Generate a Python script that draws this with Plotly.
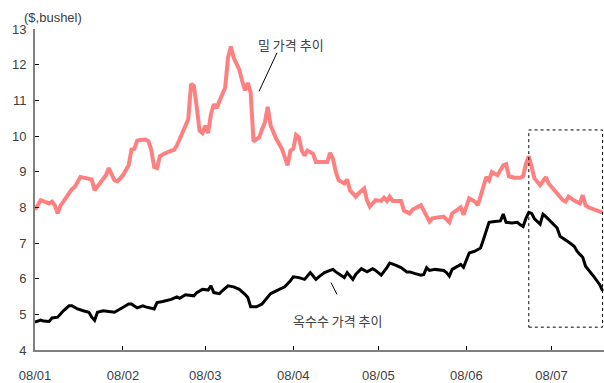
import plotly.graph_objects as go

# 2008 daily price samples, $ per bushel
wheat_dates = [
    "2008-01-01", "2008-01-03", "2008-01-06", "2008-01-07", "2008-01-08", "2008-01-09", "2008-01-10",
    "2008-01-12", "2008-01-14", "2008-01-15", "2008-01-17", "2008-01-19", "2008-01-21", "2008-01-22",
    "2008-01-24", "2008-01-26", "2008-01-27", "2008-01-29", "2008-01-30", "2008-02-01", "2008-02-03",
    "2008-02-04", "2008-02-05", "2008-02-06", "2008-02-07", "2008-02-09", "2008-02-10", "2008-02-11",
    "2008-02-12", "2008-02-13", "2008-02-14", "2008-02-15", "2008-02-18", "2008-02-19", "2008-02-20",
    "2008-02-22", "2008-02-24", "2008-02-25", "2008-02-26", "2008-02-27", "2008-02-28", "2008-02-29",
    "2008-03-01", "2008-03-02", "2008-03-03", "2008-03-04", "2008-03-05", "2008-03-06", "2008-03-08",
    "2008-03-09", "2008-03-10", "2008-03-11", "2008-03-13", "2008-03-14", "2008-03-15", "2008-03-16",
    "2008-03-17", "2008-03-18", "2008-03-20", "2008-03-21", "2008-03-22", "2008-03-23", "2008-03-24",
    "2008-03-26", "2008-03-28", "2008-03-29", "2008-03-30", "2008-03-31", "2008-04-01", "2008-04-02",
    "2008-04-03", "2008-04-04", "2008-04-05", "2008-04-06", "2008-04-08", "2008-04-09", "2008-04-12",
    "2008-04-13", "2008-04-14", "2008-04-15", "2008-04-16", "2008-04-17", "2008-04-19", "2008-04-20",
    "2008-04-21", "2008-04-23", "2008-04-24", "2008-04-26", "2008-04-27", "2008-04-28", "2008-04-30",
    "2008-05-02", "2008-05-03", "2008-05-04", "2008-05-05", "2008-05-06", "2008-05-09", "2008-05-10",
    "2008-05-12", "2008-05-13", "2008-05-16", "2008-05-17", "2008-05-19", "2008-05-20", "2008-05-24",
    "2008-05-26", "2008-05-27", "2008-05-29", "2008-05-30", "2008-05-31", "2008-06-01", "2008-06-02",
    "2008-06-04", "2008-06-05", "2008-06-06", "2008-06-07", "2008-06-08", "2008-06-09", "2008-06-10",
    "2008-06-11", "2008-06-12", "2008-06-14", "2008-06-15", "2008-06-16", "2008-06-18", "2008-06-20",
    "2008-06-21", "2008-06-22", "2008-06-23", "2008-06-24", "2008-06-25", "2008-06-27", "2008-06-29",
    "2008-06-30", "2008-07-02", "2008-07-03", "2008-07-05", "2008-07-06", "2008-07-07", "2008-07-09",
    "2008-07-11", "2008-07-12", "2008-07-13", "2008-07-14", "2008-07-16", "2008-07-17", "2008-07-19",
]
wheat_prices = [
    7.93, 8.20, 8.11, 8.16, 8.05, 7.83, 8.05,
    8.27, 8.51, 8.57, 8.85, 8.82, 8.78, 8.48,
    8.69, 8.90, 9.10, 8.76, 8.73, 8.90, 9.18,
    9.62, 9.64, 9.87, 9.89, 9.90, 9.85, 9.60,
    9.13, 9.10, 9.43, 9.48, 9.59, 9.61, 9.73,
    10.10, 10.47, 11.46, 11.40, 10.80, 10.15, 10.08,
    10.29, 10.08, 10.61, 10.89, 10.78, 10.98, 11.35,
    12.19, 12.51, 12.20, 11.86, 11.54, 11.28, 11.49,
    11.21, 9.85, 9.96, 10.19, 10.38, 10.82, 10.30,
    9.92, 9.64, 9.41, 9.18, 9.59, 9.64, 10.03,
    9.96, 9.59, 9.45, 9.59, 9.50, 9.27, 9.27,
    9.27, 9.53, 9.36, 8.99, 8.76, 8.67, 8.78,
    8.48, 8.30, 8.39, 8.53, 8.20, 8.02, 8.20,
    8.18, 8.27, 8.18, 8.30, 8.18, 8.18, 7.91,
    7.83, 7.93, 8.06, 7.91, 7.60, 7.69, 7.74,
    7.58, 7.83, 7.94, 8.00, 7.79, 8.02, 8.25,
    8.16, 8.06, 8.31, 8.62, 8.85, 8.76, 8.99,
    8.94, 8.90, 9.18, 9.21, 8.87, 8.83, 8.83,
    8.87, 9.22, 9.43, 9.13, 8.81, 8.62, 8.85,
    8.67, 8.48, 8.36, 8.20, 8.16, 8.30, 8.19,
    8.11, 8.34, 8.06, 8.00, 7.94, 7.91, 7.85,
]

corn_dates = [
    "2008-01-01", "2008-01-03", "2008-01-04", "2008-01-06", "2008-01-07", "2008-01-09", "2008-01-11",
    "2008-01-13", "2008-01-14", "2008-01-16", "2008-01-18", "2008-01-20", "2008-01-21", "2008-01-22",
    "2008-01-23", "2008-01-25", "2008-01-27", "2008-01-29", "2008-01-31", "2008-02-03", "2008-02-04",
    "2008-02-06", "2008-02-08", "2008-02-09", "2008-02-12", "2008-02-13", "2008-02-15", "2008-02-18",
    "2008-02-20", "2008-02-21", "2008-02-23", "2008-02-26", "2008-02-27", "2008-02-29", "2008-03-02",
    "2008-03-03", "2008-03-04", "2008-03-06", "2008-03-07", "2008-03-09", "2008-03-11", "2008-03-13",
    "2008-03-15", "2008-03-16", "2008-03-17", "2008-03-19", "2008-03-21", "2008-03-24", "2008-03-26",
    "2008-03-27", "2008-03-29", "2008-03-31", "2008-04-01", "2008-04-03", "2008-04-05", "2008-04-07",
    "2008-04-09", "2008-04-10", "2008-04-12", "2008-04-14", "2008-04-15", "2008-04-16", "2008-04-19",
    "2008-04-20", "2008-04-22", "2008-04-23", "2008-04-25", "2008-04-27", "2008-04-29", "2008-04-30",
    "2008-05-02", "2008-05-04", "2008-05-05", "2008-05-07", "2008-05-09", "2008-05-11", "2008-05-12",
    "2008-05-14", "2008-05-16", "2008-05-17", "2008-05-18", "2008-05-19", "2008-05-21", "2008-05-24",
    "2008-05-25", "2008-05-26", "2008-05-27", "2008-05-29", "2008-05-30", "2008-05-31", "2008-06-01",
    "2008-06-02", "2008-06-04", "2008-06-06", "2008-06-07", "2008-06-08", "2008-06-09", "2008-06-11",
    "2008-06-13", "2008-06-14", "2008-06-15", "2008-06-17", "2008-06-19", "2008-06-20", "2008-06-21",
    "2008-06-22", "2008-06-23", "2008-06-24", "2008-06-25", "2008-06-27", "2008-06-28", "2008-06-29",
    "2008-07-01", "2008-07-03", "2008-07-04", "2008-07-06", "2008-07-07", "2008-07-09", "2008-07-10",
    "2008-07-11", "2008-07-12", "2008-07-13", "2008-07-15", "2008-07-16", "2008-07-18", "2008-07-19",
]
corn_prices = [
    4.78, 4.84, 4.81, 4.80, 4.90, 4.92, 5.10,
    5.24, 5.24, 5.15, 5.10, 5.06, 4.92, 4.83,
    5.06, 5.10, 5.08, 5.06, 5.15, 5.29, 5.29,
    5.18, 5.24, 5.21, 5.15, 5.33, 5.36, 5.42,
    5.49, 5.45, 5.55, 5.52, 5.61, 5.70, 5.68,
    5.80, 5.61, 5.58, 5.66, 5.80, 5.77, 5.70,
    5.56, 5.47, 5.21, 5.21, 5.29, 5.58, 5.66,
    5.70, 5.77, 5.94, 6.05, 6.03, 5.98, 6.17,
    5.98, 6.05, 6.17, 6.23, 6.26, 6.19, 6.03,
    6.17, 5.98, 6.12, 6.28, 6.19, 6.28, 6.23,
    6.10, 6.31, 6.44, 6.38, 6.31, 6.19, 6.19,
    6.14, 6.10, 6.12, 6.31, 6.23, 6.26, 6.23,
    6.17, 6.07, 6.26, 6.35, 6.40, 6.32, 6.51,
    6.72, 6.77, 6.86, 7.09, 7.33, 7.58, 7.60,
    7.62, 7.81, 7.58, 7.56, 7.58, 7.51, 7.46,
    7.69, 7.86, 7.83, 7.68, 7.53, 7.81, 7.74,
    7.58, 7.42, 7.19, 7.09, 7.03, 6.91, 6.77,
    6.68, 6.60, 6.35, 6.17, 6.05, 5.83, 5.66,
]

month_ticks = ["2008-01-01", "2008-02-01", "2008-03-01", "2008-04-01",
               "2008-05-01", "2008-06-01", "2008-07-01"]
month_labels = ["08/01", "08/02", "08/03", "08/04", "08/05", "08/06", "08/07"]
y_ticks = [4, 5, 6, 7, 8, 9, 10, 11, 12, 13]

TICK_FONT = dict(family="Liberation Sans Narrow, Arial Narrow, Liberation Sans, Arial",
                 size=13, color="#404040")
KO_FONT = dict(family="Noto Sans CJK KR", size=13, color="#404040")

fig = go.Figure()
fig.add_trace(go.Scatter(x=wheat_dates, y=wheat_prices, mode="lines", name="밀",
                         line=dict(color="#FF8080", width=4, shape="linear")))
fig.add_trace(go.Scatter(x=corn_dates, y=corn_prices, mode="lines", name="옥수수",
                         line=dict(color="#000000", width=3)))

# highlighted recent period
fig.add_shape(type="rect", xref="x", yref="y",
              x0="2008-06-23", x1="2008-07-19", y0=4.64, y1=10.17,
              line=dict(color="#000000", width=1, dash="dot"))

# callout leaders
fig.add_shape(type="line", xref="paper", yref="paper",
              x0=0.4253, y0=0.9259, x1=0.3937, y1=0.8056,
              line=dict(color="#000000", width=1))
fig.add_shape(type="line", xref="paper", yref="paper",
              x0=0.5202, y0=0.2099, x1=0.5308, y1=0.1728,
              line=dict(color="#000000", width=1))

fig.add_annotation(text="밀 가격 추이", xref="paper", yref="paper",
                   x=0.4499, y=0.9506, xanchor="center", yanchor="middle",
                   showarrow=False, font=KO_FONT)
fig.add_annotation(text="옥수수 가격 추이", xref="paper", yref="paper",
                   x=0.5325, y=0.0926, xanchor="center", yanchor="middle",
                   showarrow=False, font=KO_FONT)
fig.add_annotation(text="($,bushel)", xref="paper", yref="paper",
                   x=-0.022, y=1.0, xanchor="left", yanchor="bottom",
                   yshift=2, showarrow=False, font=TICK_FONT)

fig.update_xaxes(type="date", range=["2008-01-01", "2008-07-19 12:00"],
                 tickvals=month_ticks, ticktext=month_labels,
                 showgrid=False, zeroline=False,
                 showline=True, linecolor="#808080", linewidth=2,
                 ticks="inside", ticklen=4, tickcolor="#000000", tickwidth=1,
                 ticklabelstandoff=12, tickfont=TICK_FONT)
fig.update_yaxes(range=[4, 13], tickvals=y_ticks,
                 showgrid=False, zeroline=False,
                 showline=True, linecolor="#808080", linewidth=2,
                 ticks="inside", ticklen=4, tickcolor="#000000", tickwidth=1,
                 ticklabelstandoff=4, tickfont=TICK_FONT)

fig.update_layout(width=604, height=383,
                  margin=dict(l=35, r=0, t=29, b=30),
                  paper_bgcolor="#FFFFFF", plot_bgcolor="#FFFFFF",
                  showlegend=False)

fig.write_html("out.html")
